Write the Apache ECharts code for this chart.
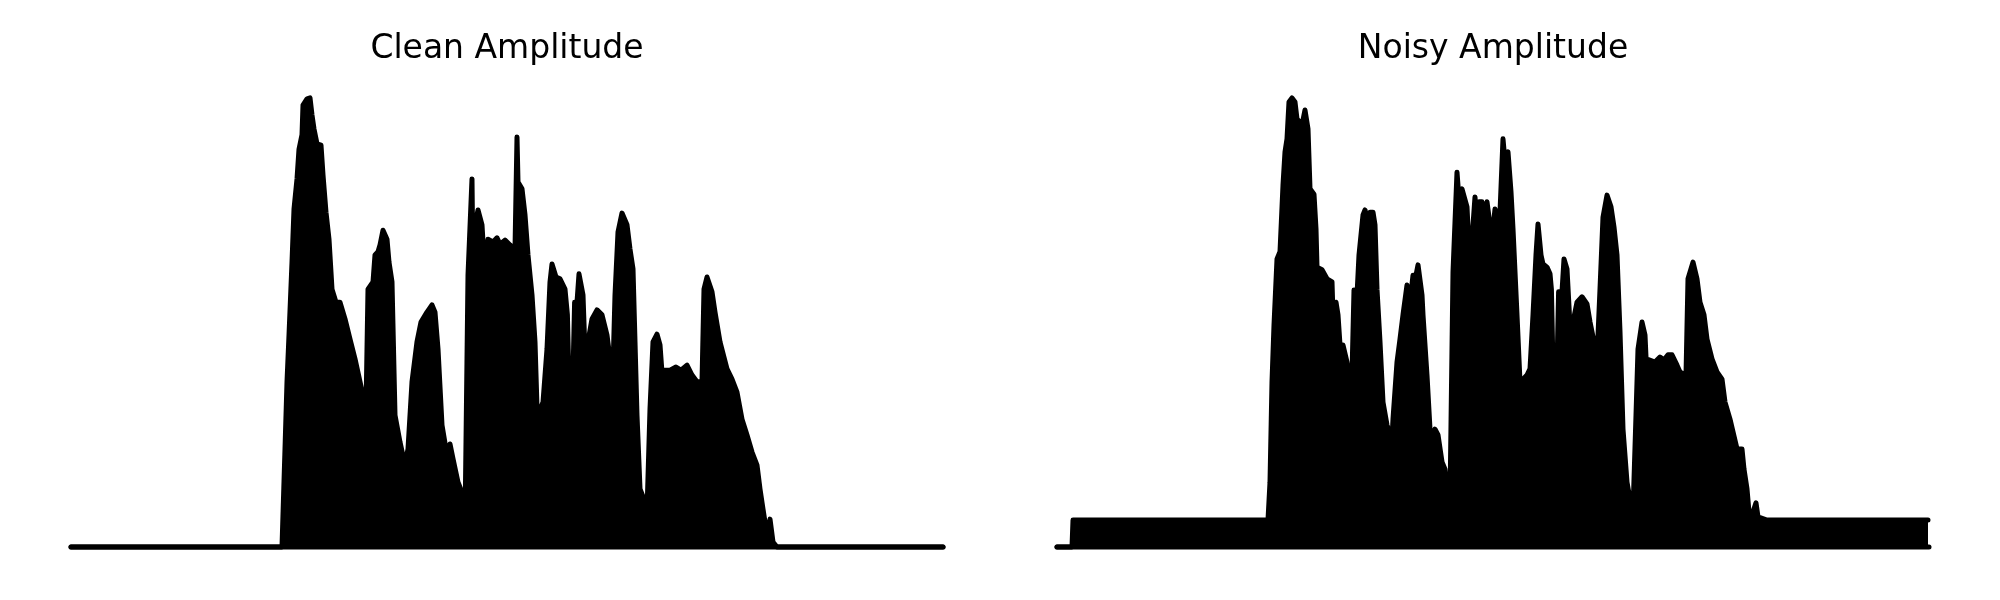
<!DOCTYPE html>
<html>
<head>
<meta charset="utf-8">
<script src="https://cdn.jsdelivr.net/npm/echarts@6/dist/echarts.min.js"></script>
<style>
html,body{margin:0;padding:0;background:#fff;}
#chart{width:2000px;height:600px;}
</style>
</head>
<body>
<div id="chart"></div>
<script>
// ---- data (time in s, amplitude normalised to peak) ----
const panelTitles = ['Clean Amplitude', 'Noisy Amplitude'];

const cleanTime = [
  0, 1.055, 1.07, 1.08, 1.09, 1.105, 1.115, 1.13, 1.14, 1.155,
  1.16, 1.18, 1.195, 1.205, 1.215, 1.23, 1.25, 1.26, 1.275, 1.29,
  1.305, 1.325, 1.345, 1.37, 1.395, 1.42, 1.445, 1.475, 1.485, 1.51,
  1.52, 1.535, 1.545, 1.56, 1.58, 1.59, 1.605, 1.62, 1.645, 1.67,
  1.685, 1.705, 1.73, 1.75, 1.78, 1.805, 1.82, 1.835, 1.855, 1.88,
  1.895, 1.91, 1.935, 1.96, 1.97, 1.985, 2.005, 2.01, 2.02, 2.035,
  2.055, 2.06, 2.08, 2.085, 2.11, 2.13, 2.145, 2.17, 2.195, 2.22,
  2.23, 2.235, 2.255, 2.27, 2.285, 2.305, 2.32, 2.33, 2.345, 2.36,
  2.38, 2.395, 2.405, 2.415, 2.425, 2.445, 2.47, 2.482, 2.5, 2.518,
  2.53, 2.54, 2.56, 2.57, 2.585, 2.605, 2.63, 2.655, 2.68, 2.695,
  2.71, 2.72, 2.735, 2.755, 2.78, 2.795, 2.81, 2.83, 2.845, 2.87,
  2.88, 2.895, 2.91, 2.93, 2.945, 2.96, 2.965, 2.995, 3.025, 3.05,
  3.08, 3.105, 3.13, 3.155, 3.165, 3.18, 3.205, 3.22, 3.245, 3.28,
  3.305, 3.33, 3.355, 3.38, 3.405, 3.43, 3.445, 3.46, 3.48, 3.495,
  3.51, 3.53, 4.36
];
const cleanAmp = [
  0, 0, 0.218, 0.367, 0.471, 0.633, 0.751, 0.818, 0.884, 0.916,
  0.982, 0.996, 0.998, 0.96, 0.929, 0.896, 0.893, 0.827, 0.744, 0.684,
  0.573, 0.544, 0.544, 0.507, 0.462, 0.418, 0.367, 0.307, 0.573, 0.589,
  0.649, 0.656, 0.671, 0.704, 0.684, 0.633, 0.589, 0.293, 0.233, 0.182,
  0.218, 0.367, 0.456, 0.5, 0.522, 0.538, 0.522, 0.44, 0.271, 0.204,
  0.229, 0.196, 0.144, 0.116, 0.049, 0.604, 0.818, 0.604, 0.716, 0.749,
  0.716, 0.678, 0.64, 0.684, 0.678, 0.687, 0.673, 0.682, 0.671, 0.662,
  0.911, 0.811, 0.796, 0.738, 0.649, 0.56, 0.456, 0.311, 0.304, 0.322,
  0.44, 0.589, 0.629, 0.629, 0.6, 0.596, 0.573, 0.516, 0.182, 0.544,
  0.544, 0.607, 0.56, 0.433, 0.456, 0.507, 0.527, 0.516, 0.471, 0.418,
  0.396, 0.56, 0.7, 0.742, 0.716, 0.662, 0.618, 0.293, 0.129, 0.1,
  0.078, 0.307, 0.456, 0.473, 0.449, 0.356, 0.393, 0.393, 0.4, 0.393,
  0.404, 0.382, 0.367, 0.367, 0.573, 0.6, 0.567, 0.522, 0.456, 0.396,
  0.373, 0.344, 0.284, 0.249, 0.211, 0.182, 0.129, 0.084, 0.027, 0.062,
  0.011, 0, 0
];

const noisyTime = [
  0, 0.075, 0.08, 1.055, 1.065, 1.075, 1.085, 1.1, 1.115, 1.13,
  1.14, 1.15, 1.16, 1.175, 1.19, 1.2, 1.215, 1.225, 1.24, 1.255,
  1.265, 1.285, 1.295, 1.3, 1.325, 1.35, 1.375, 1.38, 1.395, 1.405,
  1.415, 1.43, 1.45, 1.46, 1.475, 1.485, 1.5, 1.51, 1.53, 1.54,
  1.555, 1.565, 1.58, 1.59, 1.6, 1.615, 1.63, 1.65, 1.675, 1.68,
  1.7, 1.715, 1.73, 1.75, 1.765, 1.78, 1.795, 1.805, 1.825, 1.83,
  1.85, 1.865, 1.875, 1.89, 1.905, 1.925, 1.94, 1.955, 1.965, 1.98,
  2.0, 2.01, 2.025, 2.035, 2.05, 2.065, 2.075, 2.09, 2.1, 2.11,
  2.125, 2.14, 2.15, 2.165, 2.18, 2.19, 2.2, 2.215, 2.23, 2.24,
  2.255, 2.27, 2.28, 2.3, 2.315, 2.33, 2.35, 2.365, 2.38, 2.395,
  2.405, 2.42, 2.43, 2.45, 2.465, 2.472, 2.49, 2.508, 2.525, 2.535,
  2.55, 2.57, 2.58, 2.6, 2.625, 2.65, 2.665, 2.685, 2.7, 2.715,
  2.73, 2.75, 2.77, 2.785, 2.8, 2.815, 2.83, 2.85, 2.87, 2.88,
  2.895, 2.905, 2.925, 2.94, 2.95, 2.96, 2.99, 3.015, 3.035, 3.055,
  3.075, 3.1, 3.115, 3.145, 3.155, 3.18, 3.2, 3.215, 3.235, 3.25,
  3.275, 3.3, 3.325, 3.34, 3.365, 3.38, 3.4, 3.425, 3.435, 3.45,
  3.46, 3.475, 3.485, 3.495, 3.505, 3.55, 4.355
];
const noisyAmp = [
  0, 0, 0.06, 0.06, 0.144, 0.367, 0.493, 0.64, 0.656, 0.804,
  0.878, 0.907, 0.989, 0.998, 0.989, 0.951, 0.944, 0.938, 0.971, 0.929,
  0.796, 0.784, 0.707, 0.622, 0.616, 0.596, 0.589, 0.516, 0.544, 0.516,
  0.449, 0.449, 0.411, 0.382, 0.384, 0.571, 0.56, 0.649, 0.738, 0.749,
  0.722, 0.744, 0.744, 0.716, 0.573, 0.456, 0.322, 0.271, 0.24, 0.284,
  0.411, 0.462, 0.516, 0.582, 0.544, 0.604, 0.604, 0.627, 0.56, 0.516,
  0.382, 0.262, 0.218, 0.262, 0.249, 0.189, 0.173, 0.116, 0.104, 0.611,
  0.833, 0.773, 0.796, 0.796, 0.756, 0.618, 0.684, 0.778, 0.707, 0.767,
  0.767, 0.716, 0.767, 0.716, 0.707, 0.751, 0.738, 0.744, 0.907, 0.856,
  0.878, 0.789, 0.707, 0.516, 0.367, 0.373, 0.382, 0.396, 0.516, 0.649,
  0.718, 0.649, 0.629, 0.622, 0.607, 0.573, 0.182, 0.567, 0.567, 0.64,
  0.618, 0.449, 0.5, 0.544, 0.556, 0.54, 0.5, 0.456, 0.418, 0.573,
  0.733, 0.782, 0.756, 0.711, 0.649, 0.478, 0.262, 0.144, 0.093, 0.078,
  0.293, 0.44, 0.5, 0.471, 0.373, 0.416, 0.411, 0.422, 0.416, 0.427,
  0.427, 0.404, 0.389, 0.382, 0.596, 0.633, 0.596, 0.544, 0.516, 0.462,
  0.418, 0.389, 0.373, 0.322, 0.284, 0.256, 0.218, 0.218, 0.173, 0.129,
  0.078, 0.071, 0.071, 0.098, 0.067, 0.06, 0.06
];

// minimum amplitude (zero line) under each panel
const floorTime = [0, 4.36];
const floorAmp = [0, 0];

const tMax = 4.36;

// ---- build ----
function zip(t, a) { return t.map((v, i) => [v, a[i]]); }

const chart = echarts.init(document.getElementById('chart'), null, { renderer: 'canvas' });

const gridDefs = [
  { left: 71, top: 97, width: 872, height: 450 },
  { left: 1057, top: 97, width: 872, height: 450 }
];
const envelopes = [zip(cleanTime, cleanAmp), zip(noisyTime, noisyAmp)];

const lineStyle = { color: '#000', width: 5, cap: 'round', join: 'round' };

const series = [];
envelopes.forEach((data, i) => {
  series.push({
    type: 'line', xAxisIndex: i, yAxisIndex: i, data: data,
    showSymbol: false, symbol: 'none', clip: false, animation: false,
    lineStyle: lineStyle,
    areaStyle: { color: '#000', opacity: 1, origin: 0 },
    silent: true
  });
  series.push({
    type: 'line', xAxisIndex: i, yAxisIndex: i, data: zip(floorTime, floorAmp),
    showSymbol: false, symbol: 'none', clip: false, animation: false,
    lineStyle: lineStyle, silent: true
  });
});

chart.setOption({
  backgroundColor: '#fff',
  animation: false,
  grid: gridDefs.map(g => Object.assign({ containLabel: false }, g)),
  xAxis: [0, 1].map(i => ({ type: 'value', gridIndex: i, min: 0, max: tMax, show: false })),
  yAxis: [0, 1].map(i => ({ type: 'value', gridIndex: i, min: 0, max: 1, show: false })),
  graphic: [
    { type: 'text', x: 507, y: 49, style: { text: panelTitles[0], font: '33px "DejaVu Sans"', fill: '#000', align: 'center', verticalAlign: 'middle' } },
    { type: 'text', x: 1493, y: 49, style: { text: panelTitles[1], font: '33px "DejaVu Sans"', fill: '#000', align: 'center', verticalAlign: 'middle' } }
  ],
  series: series
});
</script>
</body>
</html>
